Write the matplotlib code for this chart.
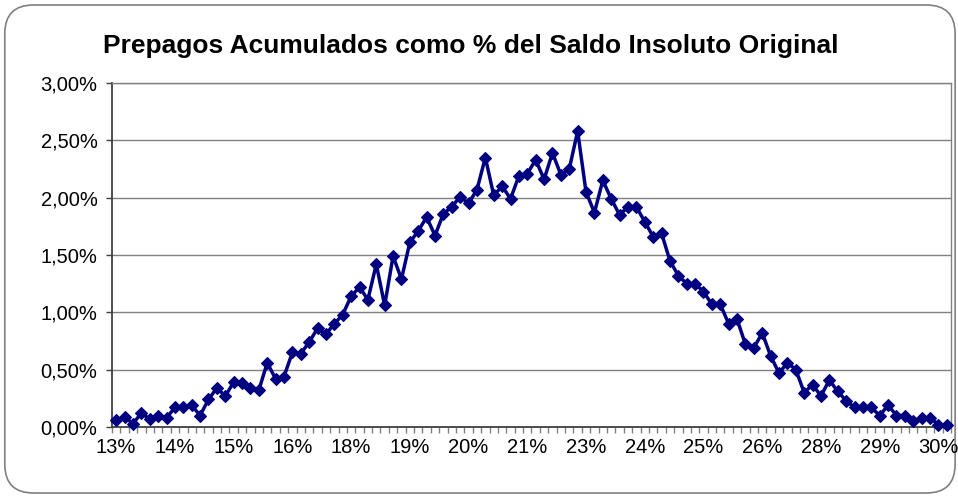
import numpy as np
import matplotlib
matplotlib.use('Agg')
import matplotlib.pyplot as plt
from matplotlib.patches import FancyBboxPatch
from matplotlib.ticker import FuncFormatter, FixedLocator

plt.rcParams['font.family'] = ['Liberation Sans', 'DejaVu Sans']

# prepagos acumulados (% del saldo insoluto original), one per category
prepagos = [0.058, 0.09, 0.03, 0.12, 0.07, 0.10, 0.08, 0.17, 0.17, 0.19,
            0.10, 0.24, 0.34, 0.27, 0.39, 0.38, 0.34, 0.32, 0.56, 0.42,
            0.44, 0.65, 0.64, 0.74, 0.86, 0.81, 0.90, 0.98, 1.14, 1.22,
            1.11, 1.42, 1.06, 1.49, 1.29, 1.61, 1.71, 1.83, 1.67, 1.86,
            1.92, 2.01, 1.95, 2.07, 2.35, 2.02, 2.10, 1.99, 2.19, 2.21,
            2.33, 2.16, 2.39, 2.20, 2.25, 2.58, 2.05, 1.87, 2.15, 1.99,
            1.85, 1.92, 1.92, 1.79, 1.66, 1.69, 1.45, 1.32, 1.25, 1.25,
            1.18, 1.07, 1.07, 0.90, 0.94, 0.72, 0.69, 0.82, 0.62, 0.47,
            0.56, 0.50, 0.30, 0.37, 0.27, 0.41, 0.31, 0.23, 0.17, 0.17,
            0.17, 0.10, 0.19, 0.10, 0.10, 0.05, 0.08, 0.08, 0.02, 0.02]

# category labels shown every 7th point
x_labels = ['13%', '14%', '15%', '16%', '18%', '19%', '20%', '21%',
            '23%', '24%', '25%', '26%', '28%', '29%', '30%']
label_step = 7

y_values = np.array(prepagos) / 100.0
x = np.arange(len(y_values))

fig = plt.figure(figsize=(9.58, 4.98), dpi=100)

# rounded chart border (behind the axes)
border = FancyBboxPatch((0.005, 0.01), 0.992, 0.98,
                        boxstyle='round,pad=0,rounding_size=0.03',
                        transform=fig.transFigure, facecolor='none',
                        edgecolor='#808080', linewidth=1.2,
                        mutation_aspect=958/498, zorder=-1)
fig.patches.append(border)

ax = fig.add_axes([0.1169, 0.1426, 0.8758, 0.6907])
ax.set_facecolor('white')

ax.plot(x, y_values, color='#000080', linewidth=2.5, marker='D',
        markersize=5.8, markeredgewidth=0.8, markerfacecolor='#000080',
        markeredgecolor='#000080', zorder=3, clip_on=False)

ax.set_xlim(-0.5, len(y_values) - 0.5)
ax.set_ylim(0, 0.03)

# y axis
ax.set_yticks(np.arange(0, 0.0301, 0.005))
ax.yaxis.set_major_formatter(FuncFormatter(lambda v, p: ('%.2f%%' % (v * 100)).replace('.', ',')))
ax.yaxis.grid(True, color='#808080', linewidth=1.0)
ax.set_axisbelow(True)

# x axis: labels every 7 categories, tick marks at category edges
ax.xaxis.set_major_locator(FixedLocator(x[::label_step]))
ax.set_xticklabels(x_labels)
ax.xaxis.set_minor_locator(FixedLocator(np.arange(-0.5, len(y_values), 1.0)))
ax.tick_params(axis='x', which='major', length=0, pad=8, labelsize=14.5)
ax.tick_params(axis='x', which='minor', length=4, width=1, color='#808080', direction='out')
ax.tick_params(axis='y', which='major', length=4.5, width=1, color='#404040', pad=6, labelsize=14.5)

for side in ['left', 'bottom']:
    ax.spines[side].set_color('#404040')
    ax.spines[side].set_linewidth(1.3)
for side in ['top', 'right']:
    ax.spines[side].set_color('#808080')
    ax.spines[side].set_linewidth(1.0)

fig.text(0.491, 0.908, 'Prepagos Acumulados como % del Saldo Insoluto Original',
         ha='center', va='center', fontsize=19, fontweight='bold')

fig.savefig('out.png', dpi=100)
